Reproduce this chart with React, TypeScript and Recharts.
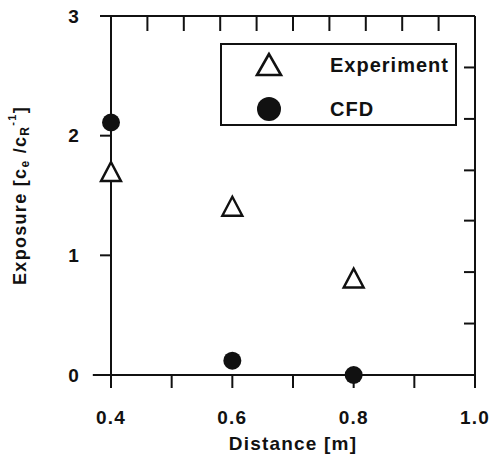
import React from 'react';
import { ScatterChart, Scatter, XAxis, YAxis, Legend, ReferenceLine } from 'recharts';

const distances = [0.4, 0.6, 0.8];
const experimentValues = [1.7, 1.41, 0.81];
const cfdValues = [2.11, 0.12, 0.0];

const xTicks = [0.4, 0.5, 0.6, 0.7, 0.8, 0.9, 1.0];
const xTickLabels = ['0.4', '', '0.6', '', '0.8', '', '1.0'];
const xTopTicks = [0.4, 0.46, 0.52, 0.58, 0.64, 0.7, 0.76, 0.82, 0.88, 0.94];
const yTicks = [0, 1, 2, 3];
const yTickLabels = ['0', '1', '2', '3'];
const yRightTicks = [0.43, 0.86, 1.29, 1.71, 2.14, 2.57];

const seriesNames = ['Experiment', 'CFD'];

const experimentData = distances.map((x, i) => ({ x, y: experimentValues[i] }));
const cfdData = distances.map((x, i) => ({ x, y: cfdValues[i] }));

const FONT = '"Liberation Sans", Arial, sans-serif';
const INK = '#111';

const Triangle = (props: any) => {
  const { cx, cy } = props;
  if (cx == null || cy == null) return null;
  const h = 9.5;
  const w = 10;
  return (
    <polygon
      points={`${cx},${cy - h} ${cx - w},${cy + h} ${cx + w},${cy + h}`}
      fill="#fff"
      stroke={INK}
      strokeWidth={2.4}
      strokeLinejoin="miter"
    />
  );
};

const Dot = (props: any) => {
  const { cx, cy } = props;
  if (cx == null || cy == null) return null;
  return <circle cx={cx} cy={cy} r={9} fill={INK} />;
};

const Nothing = () => <g />;

const YTitle = (props: any) => {
  const vb = props.viewBox || { x: 0, y: 0, width: 0, height: 0 };
  const x = vb.x + 20;
  const y = vb.y + vb.height / 2;
  return (
    <text
      x={x}
      y={y}
      transform={`rotate(-90, ${x}, ${y})`}
      textAnchor="middle"
      dominantBaseline="central"
      fontFamily={FONT}
      fontWeight="bold"
      fontSize={18}
      letterSpacing={1.3}
      fill={INK}
    >
      Exposure [c
      <tspan fontSize={12} dy={5}>e</tspan>
      <tspan dy={-5}> /c</tspan>
      <tspan fontSize={12} dy={5}>R</tspan>
      <tspan fontSize={11} dy={-13}>-1</tspan>
      <tspan dy={8}>]</tspan>
    </text>
  );
};

const XTitle = (props: any) => {
  const vb = props.viewBox || { x: 0, y: 0, width: 0, height: 0 };
  return (
    <text
      x={vb.x + vb.width / 2}
      y={vb.y + 68}
      textAnchor="middle"
      dominantBaseline="central"
      fontFamily={FONT}
      fontWeight="bold"
      fontSize={19}
      letterSpacing={1.2}
      fill={INK}
    >
      Distance [m]
    </text>
  );
};

const LegendBox = () => (
  <div
    style={{
      width: 237,
      height: 83,
      boxSizing: 'border-box',
      border: `2px solid ${INK}`,
      background: '#fff',
      position: 'relative',
      fontFamily: FONT,
      fontWeight: 'bold',
      fontSize: 20,
      letterSpacing: 1,
      color: INK,
    }}
  >
    {seriesNames.map((name, i) => (
      <div
        key={name}
        style={{ position: 'absolute', left: 0, top: i === 0 ? 6 : 50, height: 28, width: '100%' }}
      >
        <svg width={30} height={28} style={{ position: 'absolute', left: 32, top: 0 }}>
          {i === 0 ? (
            <polygon points="15,3 3,24 27,24" fill="#fff" stroke={INK} strokeWidth={2.6} />
          ) : (
            <circle cx={15} cy={14} r={12} fill={INK} />
          )}
        </svg>
        <span style={{ position: 'absolute', left: 108, top: 1, lineHeight: '26px' }}>{name}</span>
      </div>
    ))}
  </div>
);

const axisStroke = { stroke: INK, strokeWidth: 2 };
const tickText = { fill: INK, fontFamily: FONT, fontWeight: 'bold', fontSize: 19, letterSpacing: 1.2 } as any;

export default function App() {
  return (
    <div style={{ position: 'absolute', left: 0, top: 0, width: 494, height: 456, background: '#fff' }}>
      <ScatterChart width={494} height={456} margin={{ top: 16, right: 19, bottom: 0, left: 0 }}>
        <XAxis
          xAxisId="bottom"
          dataKey="x"
          type="number"
          domain={[0.4, 1.0]}
          ticks={xTicks}
          interval={0}
          tickFormatter={(v: number) => xTickLabels[xTicks.findIndex((t) => Math.abs(t - v) < 1e-6)] ?? ''}
          height={81}
          tickSize={13}
          tickMargin={23}
          axisLine={axisStroke}
          tickLine={axisStroke}
          tick={tickText}
          label={<XTitle />}
        />
        <XAxis
          xAxisId="top"
          dataKey="x"
          orientation="top"
          type="number"
          domain={[0.4, 1.0]}
          ticks={xTopTicks}
          interval={0}
          tickFormatter={() => ''}
          height={1}
          tickSize={15}
          mirror
          axisLine={axisStroke}
          tickLine={axisStroke}
        />
        <YAxis
          yAxisId="left"
          dataKey="y"
          type="number"
          domain={[0, 3]}
          ticks={yTicks}
          interval={0}
          tickFormatter={(v: number) => yTickLabels[yTicks.indexOf(v)] ?? ''}
          width={111}
          tickSize={11}
          tickMargin={20}
          axisLine={axisStroke}
          tickLine={axisStroke}
          tick={tickText}
          label={<YTitle />}
        />
        <YAxis
          yAxisId="right"
          dataKey="y"
          orientation="right"
          type="number"
          domain={[0, 3]}
          ticks={yRightTicks}
          interval={0}
          tickFormatter={() => ''}
          width={1}
          tickSize={11}
          mirror
          axisLine={axisStroke}
          tickLine={axisStroke}
        />
        <ReferenceLine
          xAxisId="bottom"
          yAxisId="left"
          segment={[{ x: 0.37, y: 0 }, { x: 0.4, y: 0 }]}
          stroke={INK}
          strokeWidth={2}
          ifOverflow="visible"
        />
        <Legend
          layout="vertical"
          align="center"
          verticalAlign="middle"
          content={() => <LegendBox />}
          wrapperStyle={{ position: 'absolute', left: 220, top: 43, width: 237, height: 83 }}
        />
        <Scatter
          name="frame"
          data={experimentData}
          xAxisId="top"
          yAxisId="right"
          shape={<Nothing />}
          legendType="none"
          isAnimationActive={false}
        />
        <Scatter
          name={seriesNames[0]}
          data={experimentData}
          xAxisId="bottom"
          yAxisId="left"
          shape={<Triangle />}
          isAnimationActive={false}
        />
        <Scatter
          name={seriesNames[1]}
          data={cfdData}
          xAxisId="bottom"
          yAxisId="left"
          shape={<Dot />}
          isAnimationActive={false}
        />
      </ScatterChart>
    </div>
  );
}
